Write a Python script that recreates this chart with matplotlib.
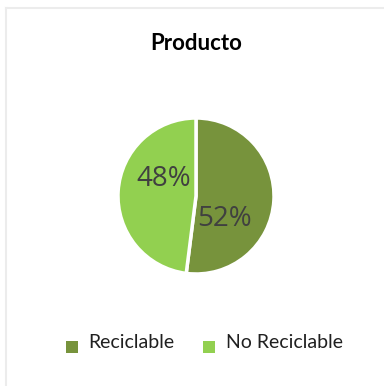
import matplotlib
matplotlib.use("Agg")
import matplotlib.pyplot as plt
from matplotlib.lines import Line2D
from matplotlib.patches import Rectangle

W, H = 384, 386
title = "Producto"
labels = ["Reciclable", "No Reciclable"]
values = [52, 48]
colors = ["#77933C", "#92D050"]
text_color = "#404040"

fig = plt.figure(figsize=(W / 100, H / 100), dpi=100)
fig.patch.set_facecolor("white")

# faint chart frame (top & left edges visible)
fig.add_artist(Line2D([6 / W, 1.0], [1 - 8 / H, 1 - 8 / H], color="#ececec", lw=1.5))
fig.add_artist(Line2D([6 / W, 6 / W], [0.0, 1 - 8 / H], color="#ececec", lw=1.5))

# pie: centre (196,196) px, radius 78 px
cx, cy, r = 196, 196, 78
ax = fig.add_axes([(cx - r) / W, 1 - (cy + r) / H, 2 * r / W, 2 * r / H])
wedges, _, autotexts = ax.pie(values, colors=colors, startangle=90, counterclock=False,
                              autopct="%1.0f%%", radius=1,
                              wedgeprops=dict(edgecolor="white", linewidth=2.5),
                              textprops=dict(color=text_color, fontsize=20, family="Open Sans"))
ax.set_xlim(-1.0, 1.0)
ax.set_ylim(-1.0, 1.0)
ax.set_aspect("auto")
ax.axis("off")

# Excel "best fit" label spots
autotexts[0].set_position((0.37, -0.30))
autotexts[1].set_position((-0.42, 0.22))

fig.text(cx / W, 1 - 44 / H, title, ha="center", va="center",
         fontsize=16, fontweight="bold", family="Lato", color="#000000")

# legend
legend_items = [(72, 88), (209, 226)]
for (mx, tx), lab, col in zip(legend_items, labels, colors):
    fig.add_artist(Rectangle(((mx - 6) / W, 1 - (347 + 6) / H), 12 / W, 12 / H,
                             transform=fig.transFigure, facecolor=col, edgecolor="none"))
    fig.text(tx / W, 1 - 342 / H, lab, ha="left", va="center",
             fontsize=14, family="Lato", color="#202020")

fig.savefig("out.png", dpi=100, facecolor="white")
